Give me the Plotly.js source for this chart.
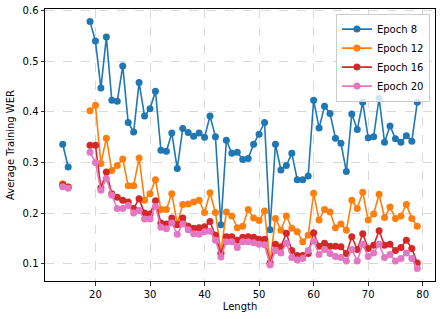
<!DOCTYPE html>
<html>
<head>
<meta charset="utf-8">
<script src="https://cdn.plot.ly/plotly-3.0.1.min.js"></script>
<style>html,body{margin:0;padding:0;background:#fff;}#chart{width:441px;height:319px;}</style>
</head>
<body>
<div id="chart"></div>
<script>
const lengths = [14,15,16,17,18,19,20,21,22,23,24,25,26,27,28,29,30,31,32,33,34,35,36,37,38,39,40,41,42,43,44,45,46,47,48,49,50,51,52,53,54,55,56,57,58,59,60,61,62,63,64,65,66,67,68,69,70,71,72,73,74,75,76,77,78,79];

const epoch8 = [0.336,0.291,null,null,null,
  0.579,0.540,0.447,0.548,0.423,0.421,0.491,0.379,0.360,0.458,
  0.392,0.406,0.441,0.324,0.322,0.358,0.288,0.367,0.359,0.352,
  0.358,0.350,0.392,0.351,0.177,0.344,0.318,0.320,0.306,0.308,
  0.336,0.356,0.379,0.167,0.336,0.285,0.294,0.318,0.266,0.266,
  0.273,0.423,0.368,0.411,0.397,0.348,0.338,0.282,0.396,0.365,
  0.419,0.349,0.351,0.427,0.340,0.372,0.347,0.340,0.353,0.342,0.419];

const epoch12 = [0.258,0.252,null,null,null,
  0.402,0.413,0.298,0.348,0.284,0.294,0.307,0.254,0.254,0.309,
  0.225,0.238,0.266,0.207,0.207,0.238,0.179,0.217,0.218,0.222,
  0.225,0.201,0.240,0.201,0.122,0.202,0.194,0.171,0.174,0.207,
  0.190,0.185,0.204,0.102,0.189,0.166,0.194,0.170,0.163,0.143,
  0.156,0.239,0.186,0.207,0.202,0.171,0.178,0.166,0.225,0.209,
  0.241,0.186,0.198,0.237,0.191,0.212,0.189,0.194,0.217,0.189,0.174];

const epoch16 = [0.256,0.251,null,null,null,
  0.334,0.334,0.250,0.281,0.238,0.231,0.225,0.222,0.209,0.228,
  0.200,0.198,0.224,0.180,0.178,0.190,0.177,0.190,0.174,0.170,
  0.171,0.173,0.183,0.156,0.120,0.153,0.153,0.146,0.152,0.153,
  0.152,0.148,0.148,0.100,0.138,0.133,0.160,0.126,0.116,0.116,
  0.120,0.161,0.134,0.140,0.134,0.134,0.133,0.120,0.153,0.128,
  0.159,0.130,0.136,0.165,0.136,0.138,0.126,0.132,0.146,0.130,0.101];

const epoch20 = [0.252,0.249,null,null,null,
  0.320,0.300,0.245,0.268,0.235,0.209,0.209,0.215,0.200,0.205,
  0.188,0.188,0.213,0.172,0.169,0.180,0.158,0.178,0.167,0.159,
  0.158,0.163,0.164,0.146,0.113,0.143,0.143,0.132,0.143,0.143,
  0.141,0.138,0.137,0.097,0.126,0.121,0.140,0.112,0.107,0.110,
  0.126,0.145,0.118,0.128,0.120,0.114,0.112,0.105,0.128,0.105,
  0.138,0.114,0.121,0.138,0.112,0.118,0.105,0.110,0.121,0.110,0.090];

const seriesNames = ['Epoch 8','Epoch 12','Epoch 16','Epoch 20'];
const seriesData = [epoch8, epoch12, epoch16, epoch20];
const colors = ['#1f77b4','#ff7f0e','#d62728','#e377c2'];

const traces = seriesData.map((ys, i) => ({
  x: lengths, y: ys, name: seriesNames[i], type: 'scatter', mode: 'lines+markers',
  connectgaps: false,
  line: {color: colors[i], width: 1.6},
  marker: {color: colors[i], size: 7}
}));

const font = {family: 'DejaVu Sans, sans-serif', size: 10, color: '#000'};
const axisCommon = {
  showline: true, mirror: true, linecolor: '#000', linewidth: 1,
  ticks: 'outside', ticklen: 3.5, tickwidth: 0.8, tickcolor: '#000',
  showgrid: true, gridcolor: '#d0d0d0', griddash: 'dash', gridwidth: 0.8,
  zeroline: false, tickfont: font
};

const layout = {
  width: 441, height: 319,
  margin: {l: 45, r: 6, t: 9, b: 38},
  paper_bgcolor: '#fff', plot_bgcolor: '#fff',
  font: font,
  showlegend: true,
  legend: {x: 0.987, xanchor: 'right', y: 0.983, yanchor: 'top',
           bgcolor: 'rgba(255,255,255,0.8)', bordercolor: '#cccccc', borderwidth: 1,
           font: {family: 'DejaVu Sans, sans-serif', size: 10, color: '#000'},
           tracegroupgap: 0, itemwidth: 30},
  xaxis: Object.assign({}, axisCommon, {
    range: [10.75, 82.25], tickvals: [20,30,40,50,60,70,80],
    title: {text: 'Length', font: font, standoff: 4}
  }),
  yaxis: Object.assign({}, axisCommon, {
    range: [0.0655, 0.6035], tickvals: [0.1,0.2,0.3,0.4,0.5,0.6], tickformat: '.1f',
    title: {text: 'Average Training WER', font: font, standoff: 6}
  })
};

Plotly.newPlot('chart', traces, layout, {displayModeBar: false, staticPlot: true});
</script>
</body>
</html>
